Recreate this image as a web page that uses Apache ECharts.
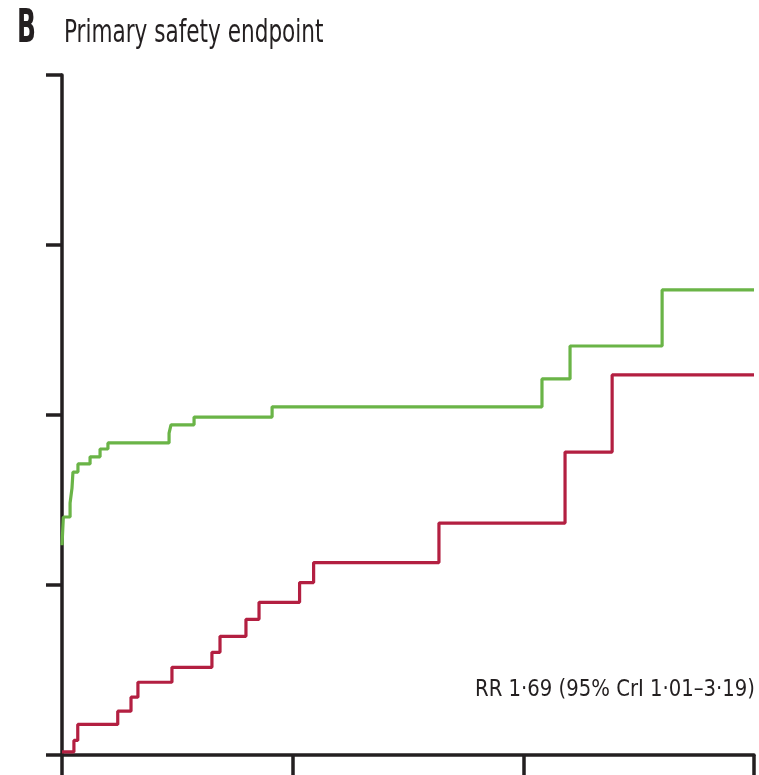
<!DOCTYPE html>
<html>
<head>
<meta charset="utf-8">
<script src="https://cdn.jsdelivr.net/npm/echarts@6/dist/echarts.min.js"></script>
<style>
html,body{margin:0;padding:0;background:#fff;}
#chart{width:759px;height:775px;}
</style>
</head>
<body>
<div id="chart"></div>
<script>
// Time in months, cumulative incidence in %
const xTicks = [0, 12, 24, 36];
const yTicks = [0, 5, 10, 15, 20];

const greenTimes = [0, 0.07, 0.42, 0.52, 0.57, 0.83, 1.46, 1.98, 2.39, 5.57, 5.67, 6.87, 10.93, 24.97, 26.43, 31.22, 36];
const greenRisk  = [6.17, 7.00, 7.41, 7.85, 8.32, 8.56, 8.77, 9.00, 9.18, 9.47, 9.71, 9.94, 10.24, 11.06, 12.03, 13.68, 13.68];

const redTimes = [0, 0.62, 0.82, 2.90, 3.59, 3.95, 5.72, 7.80, 8.22, 9.57, 10.25, 12.36, 13.09, 19.61, 26.17, 28.62, 36];
const redRisk  = [0.09, 0.43, 0.90, 1.29, 1.70, 2.14, 2.58, 3.02, 3.49, 3.99, 4.49, 5.07, 5.66, 6.82, 8.91, 11.18, 11.18];

const panelLabel = 'B';
const titleText = 'Primary safety endpoint';
const statText = 'RR 1·69 (95% CrI 1·01–3·19)';

const FONT = "'DejaVu Sans Condensed', 'Liberation Sans Narrow', 'Liberation Sans', sans-serif";
const axisColor = '#231f20';

const chart = echarts.init(document.getElementById('chart'));
const zip = (a, b) => a.map((t, i) => [t, b[i]]);

chart.setOption({
  animation: false,
  backgroundColor: '#ffffff',
  grid: { left: 62, right: 5, top: 75, bottom: 20, containLabel: false },
  xAxis: {
    type: 'value',
    min: xTicks[0], max: xTicks[xTicks.length - 1], interval: 12,
    axisLine: { show: true, onZero: false, lineStyle: { color: axisColor, width: 3.5 } },
    axisTick: { show: true, length: 20, lineStyle: { color: axisColor, width: 3.5 } },
    axisLabel: { show: false },
    splitLine: { show: false }
  },
  yAxis: {
    type: 'value',
    min: yTicks[0], max: yTicks[yTicks.length - 1], interval: 5,
    axisLine: { show: true, onZero: false, lineStyle: { color: axisColor, width: 3.5 } },
    axisTick: { show: true, length: 16, lineStyle: { color: axisColor, width: 3.5 } },
    axisLabel: { show: false },
    splitLine: { show: false }
  },
  series: [
    {
      name: 'green', type: 'line', step: 'end', showSymbol: false, clip: false,
      data: zip(greenTimes, greenRisk),
      lineStyle: { color: '#6ab447', width: 3.2 }, itemStyle: { color: '#6ab447' }, z: 3
    },
    {
      name: 'red', type: 'line', step: 'end', showSymbol: false, clip: false,
      data: zip(redTimes, redRisk),
      lineStyle: { color: '#b31f41', width: 3.2 }, itemStyle: { color: '#b31f41' }, z: 3
    }
  ],
  graphic: [
    {
      type: 'text', x: 17, y: 30, scaleX: 0.6,
      style: { text: panelLabel, font: 'bold 46px ' + FONT, fill: '#231f20', align: 'left', verticalAlign: 'middle' }
    },
    {
      type: 'text', x: 64, y: 34, scaleX: 0.75,
      style: { text: titleText, font: '32px ' + FONT, fill: '#231f20', align: 'left', verticalAlign: 'middle' }
    },
    {
      type: 'text', x: 755, y: 690, scaleX: 0.95,
      style: { text: statText, font: '23px ' + FONT, fill: '#231f20', align: 'right', verticalAlign: 'middle' }
    }
  ]
});
</script>
</body>
</html>
